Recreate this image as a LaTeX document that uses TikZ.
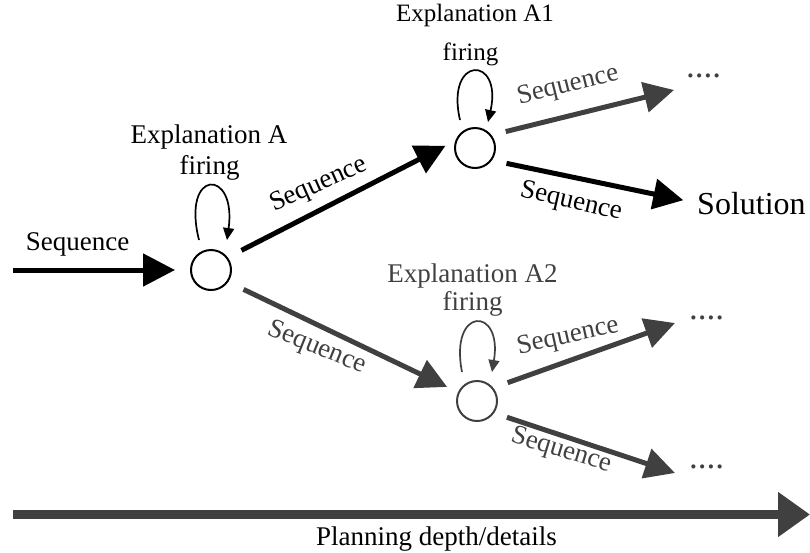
\documentclass[tikz,border=0pt]{standalone}
\usepackage{fontspec}
\setmainfont{Liberation Serif}
\usetikzlibrary{arrows.meta,calc}
\definecolor{dk}{HTML}{404040}

\begin{document}
\begin{tikzpicture}[x=1pt,y=-1pt,
  state/.style={circle,draw,minimum size=40pt,inner sep=0pt,line width=2pt},
  flow/.style={line width=5pt,-{Triangle[length=30pt,width=30pt]}},
  selfloop/.style={line width=1.7pt,-{Triangle[length=12pt,width=11pt]}},
  lbl/.style={font=\fontsize{27}{32}\selectfont,inner sep=0pt},
  lblsmall/.style={font=\fontsize{25}{30}\selectfont,inner sep=0pt},
  dots/.style={font=\fontsize{35}{40}\selectfont,inner sep=0pt,anchor=base west,text=dk}]
\useasboundingbox (0,0) rectangle (810,552);

% states
\node[state] (A) at (211,270) {};
\node[state] (A1) at (475,148) {};
\node[state,draw=dk] (A2) at (477,401) {};

% explanation labels
\node[lbl,anchor=base] (expA) at (209,143) {Explanation A};
\node[lbl,anchor=base] (firA) at (209.5,174) {firing};
\node[lblsmall,anchor=base] (expA1) at (475,21) {Explanation A1};
\node[lblsmall,anchor=base] (firA1) at (470.5,60) {firing};
\node[lbl,anchor=base,text=dk] (expA2) at (472.5,282) {Explanation A2};
\node[lbl,anchor=base,text=dk] (firA2) at (472.5,310) {firing};

% end points
\node[inner sep=0pt,anchor=base west,font=\fontsize{32}{36}\selectfont] (sol) at (697,214) {Solution};
\node[dots] (d1) at (686,77) {....};
\node[dots] (d2) at (689,319) {....};
\node[dots] (d3) at (689,468) {....};
\coordinate (src) at (13,270);
\coordinate (t1) at (674,90);
\coordinate (t2) at (675,323);
\coordinate (t3) at (675,473);

% self loops
\draw[selfloop] ($(A)+(-12,-30)$) .. controls +(-18,-72) and +(10,-72) .. ($(A)+(16,-30)$);
\draw[selfloop] ($(A1)+(-15,-28)$) .. controls +(-15,-65) and +(15,-67) .. ($(A1)+(13,-26)$);
\draw[selfloop,dk] ($(A2)+(-15,-29)$) .. controls +(-13,-66) and +(11,-66) .. ($(A2)+(15,-29)$);

% sequences
\draw[flow,-{Triangle[length=32pt,width=32pt]},shorten >=15pt] (src) -- (A.west);
\node[lbl,anchor=base] (sIn) at (77.5,250) {Sequence};

\draw[flow,shorten <=15.4pt,shorten >=11pt] (A.37) -- (A1.160);
\node[lbl,rotate=24] (sA1) at (319,185) {Sequence};

\draw[flow,dk,shorten <=17pt,shorten >=12pt] (A.-35) -- (A2.155);
\node[lbl,rotate=-22,text=dk] (sA2) at (317,348) {Sequence};

\draw[flow,dk,shorten <=14.6pt] (A1.38) -- (t1);
\node[lbl,rotate=14,text=dk] (sA1u) at (568,86) {Sequence};

\draw[flow,shorten <=14.8pt,shorten >=14pt] (A1.-36) -- (sol.west);
\node[lbl,rotate=-13] (sA1s) at (571,202) {Sequence};

\draw[flow,dk,shorten <=15.2pt] (A2.39) -- (t2);
\node[lbl,rotate=12.5,text=dk] (sA2u) at (568,337) {Sequence};

\draw[flow,dk,shorten <=13.4pt] (A2.-35) -- (t3);
\node[lbl,rotate=-17,text=dk] (sA2l) at (561,451) {Sequence};

% depth axis
\coordinate (b0) at (13,514.5);
\coordinate (b1) at (810,514.5);
\draw[dk,line width=9pt,-{Triangle[length=32pt,width=43pt]}] (b0) -- (b1);
\node[lbl,anchor=base] (axis) at (436.5,545) {Planning depth/details};
\end{tikzpicture}
\end{document}
